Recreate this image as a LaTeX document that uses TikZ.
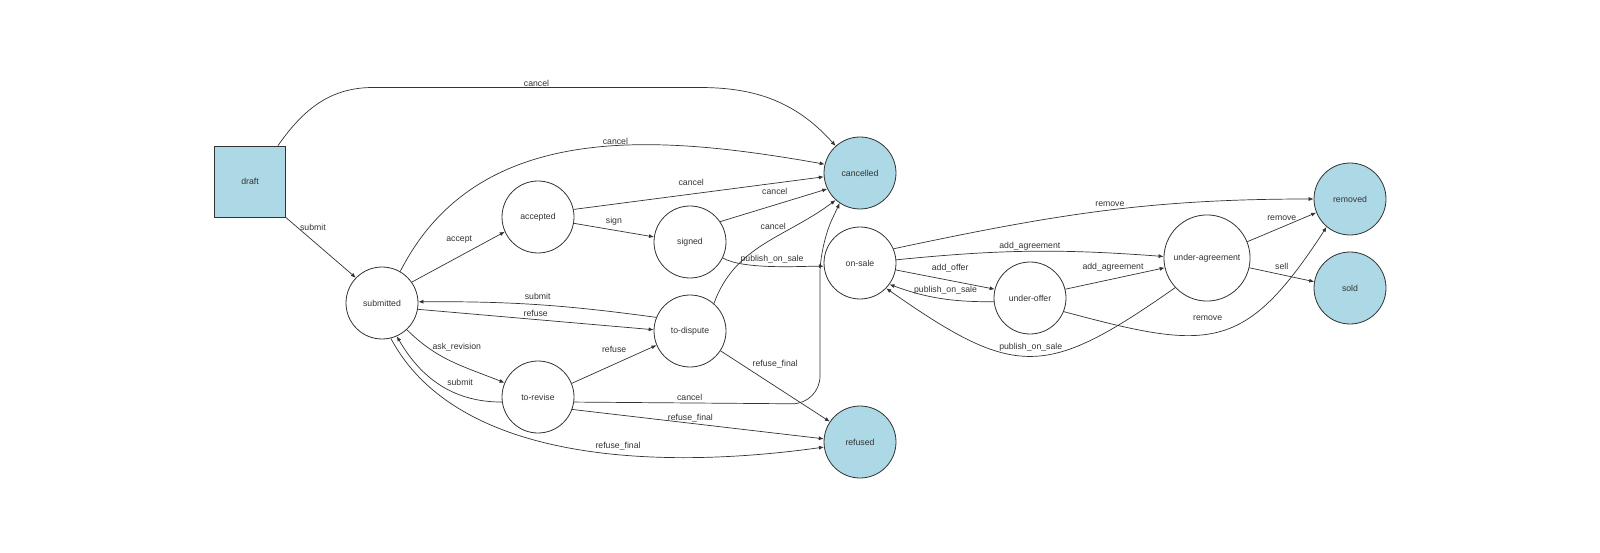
\documentclass[tikz,border=0pt]{standalone}
\usepackage{fontspec}
\setmainfont{Liberation Sans}
\usetikzlibrary{positioning,arrows.meta}
\definecolor{finalblue}{HTML}{ADD8E6}
\definecolor{ink}{HTML}{333333}

\begin{document}
\begin{tikzpicture}[x=1pt,y=1pt,
        every node/.style={font=\fontsize{8.7}{10}\selectfont, text=ink},
        statenode/.style={circle, draw=ink, line width=0.8pt, fill=white, minimum size=72pt, inner sep=8pt},
        finalnode/.style={statenode, fill=finalblue},
        draftbox/.style={rectangle, draw=ink, line width=0.8pt, fill=finalblue, minimum size=71pt},
        trans/.style={draw=ink, line width=0.7pt, -{Latex[length=5pt,width=4pt]}},
        tlabel/.style={inner sep=1pt}]
        \fill[white] (0,0) rectangle (1600,-553);
        % States
        \node[draftbox] (draft) at (250,-181.6) {draft};
        \foreach \n/\x/\y/\t in {submitted/382/303/submitted, accepted/538/217/accepted,
                signed/690/242/signed, dispute/690/331/to-dispute, revise/538/397/to-revise,
                onsale/860/263/on-sale, offer/1030/298/under-offer, agreement/1207/258/under-agreement}
            \node[statenode] (\n) at (\x,-\y) {\t};
        \foreach \n/\x/\y in {cancelled/860/173, refused/860/442, removed/1350/199, sold/1350/288}
            \node[finalnode] (\n) at (\x,-\y) {\n};
        % Straight transitions
        \foreach \a/\b/\t/\p/\s in {submitted.35/accepted.204/accept/0.51/12pt,
                accepted.12/cancelled.186/cancel/0.47/7pt,
                accepted.-10/signed.172/sign/0.5/3.5pt,
                signed.34/cancelled.206/cancel/0.51/9.5pt,
                submitted.-10/dispute.178/refuse/0.5/1.5pt,
                revise.22/dispute.203/refuse/0.5/10pt,
                dispute.-33/refused.146/refuse\_final/0.5/17pt,
                revise.-20/refused.175/refuse\_final/0.47/0pt,
                onsale.-11/offer.166/add\_offer/0.55/7pt,
                offer.14/agreement.193/add\_agreement/0.48/6.5pt,
                agreement.22/removed.202/remove/0.5/5pt,
                agreement.-13/sold.170/sell/0.5/3.5pt}
            \draw[trans] (\a) -- node[tlabel, pos=\p, above=\s] {\t} (\b);
        % Curved transitions
        \coordinate (draft-up) at (373,-87.5);
        \coordinate (draft-over) at (700,-87.5);
        \draw[trans] ([xshift=-8pt]draft.north east) to[out=55,in=180] (draft-up)
            -- node[tlabel, above] {cancel} (draft-over) to[out=0,in=132] (cancelled.132);
        \draw[trans] (draft.south east) -- node[tlabel, pos=0.17, right=1pt] {submit} (submitted.136);
        \draw[trans] (submitted.60) to[out=63,in=170] node[tlabel, pos=0.58, above] {cancel} (cancelled.166);
        \draw[trans] (submitted.-47) to[out=-45,in=158] node[tlabel, pos=0.55, above=11pt] {ask\_revision} (revise.157);
        \draw[trans] (signed.-26) to[out=-30,in=180,looseness=0.6] node[tlabel, above=1.5pt] {publish\_on\_sale} (onsale.185);
        \draw[trans] (dispute.49) to[out=70,in=217] node[tlabel, pos=0.57, above=7.5pt] {cancel} (cancelled.228);
        \draw[trans] (dispute.158) to[bend right=4] node[tlabel, above=4pt] {submit} (submitted.2);
        \draw[trans] (revise.188) to[out=180,in=-60] node[tlabel, pos=0.32, above=8.5pt] {submit} (submitted.-66);
        \coordinate (revise-turn) at (820,-404);
        \coordinate (revise-up) at (820,-245);
        \draw[trans, rounded corners=28pt] (revise.-8) -- node[tlabel, pos=0.47, above=1.5pt] {cancel} (revise-turn)
            -- (revise-up) -- (cancelled.236);
        \draw[trans] (submitted.-76) to[out=-62,in=188,looseness=0.85] node[tlabel, pos=0.58, above=2.5pt] {refuse\_final} (refused.188);
        % Sale side
        \draw[trans] (onsale.23) to[out=12,in=180] node[tlabel, pos=0.52, above=2.5pt] {remove} (removed.180);
        \draw[trans] (onsale.5) to[bend left=5] node[tlabel, above=0pt] {add\_agreement} (agreement.178);
        \draw[trans] (offer.186) to[out=180,in=-20] node[tlabel, pos=0.45, above=3pt] {publish\_on\_sale} (onsale.-36);
        \draw[trans] (agreement.223) to[out=215,in=-35,looseness=1.4] node[tlabel, above=3.5pt] {publish\_on\_sale} (onsale.-44);
        \draw[trans] (offer.-22) to[out=-15,in=237,looseness=1.4] node[tlabel, pos=0.45, above=11.5pt] {remove} (removed.230);
    \end{tikzpicture}
\end{document}
